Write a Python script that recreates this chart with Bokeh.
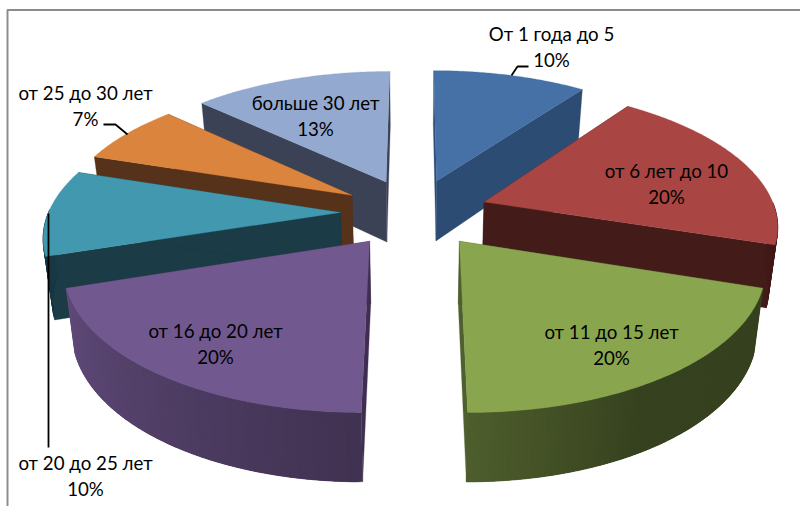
import numpy as np
from bokeh.core.properties import value
from bokeh.embed import file_html
from bokeh.models import Range1d
from bokeh.plotting import figure
from bokeh.resources import INLINE

# Stazh groups and their shares, percent, clockwise from twelve o'clock
categories = ["От 1 года до 5", "от 6 лет до 10", "от 11 до 15 лет", "от 16 до 20 лет",
              "от 20 до 25 лет", "от 25 до 30 лет", "больше 30 лет"]
shares = [10, 20, 20, 20, 10, 7, 13]

top_colors = ["#4571A6", "#A94543", "#89A54E", "#71588F", "#4198AF", "#DB843D", "#93A9CF"]
cut_colors = ["#2D4C73", "#431C1A", "#4F602F", "#3F2E50", "#1B3B46", "#56321A", "#3B4256"]

# Label centres in page pixels
label_x = [551, 666, 611, 215, 85, 85, 315]
label_y = [33, 170, 331, 330, 462, 92, 102]
LINE_GAP = 26
FONT = "Lato"
FONT_SIZE = "18.7px"

# Projection of the tilted pie onto the page
CX, CY = 414.0, 212.0
RADIUS = 292.0
EXPLODE = 74.0
TILT = 0.465
PERSP = 0.000518
SHRINK = 0.975
DEPTH_BASE, DEPTH_SLOPE = 61.5, 0.022
# Painter's order, back to front
DRAW_ORDER = [6, 0, 5, 1, 4, 3, 2]


def top_point(x, y):
    w = 1 + PERSP * y
    return CX + x / w, CY - TILT * y / w


def bottom_point(x, y):
    sx, sy = top_point(x, y)
    return CX + (sx - CX) * SHRINK, sy + DEPTH_BASE - DEPTH_SLOPE * y


def wall_color(i, deg):
    # Rim facing the viewer is lit from the left; elsewhere it takes the cut-face tone
    if not 108 <= deg <= 252:
        return cut_colors[i]
    k = np.interp(deg, [108, 150, 180, 252], [0.40, 0.40, 0.57, 0.85])
    hex_color = top_colors[i]
    rgb = [int(hex_color[n:n + 2], 16) for n in (1, 3, 5)]
    return "#%02x%02x%02x" % tuple(int(c * k) for c in rgb)


p = figure(width=800, height=506, output_backend="svg", toolbar_location=None,
           x_range=Range1d(0, 800), y_range=Range1d(506, 0),
           min_border=0, outline_line_color=None, background_fill_color="white")
p.axis.visible = False
p.grid.visible = False

# Chart frame: only the top and left rules fall inside the page
p.line([7, 7, 800], [506, 9.5, 9.5], line_color="#8C8C8C", line_width=2)

xs, ys, fills = [], [], []
edges = np.cumsum([0] + shares) / sum(shares) * 360.0
for i in DRAW_ORDER:
    a0, a1 = edges[i], edges[i + 1]
    mid = np.radians((a0 + a1) / 2)
    ox, oy = EXPLODE * np.sin(mid), EXPLODE * np.cos(mid)
    degs = np.linspace(a0, a1, max(int(a1 - a0) * 2, 2) + 1)
    rx = ox + RADIUS * np.sin(np.radians(degs))
    ry = oy + RADIUS * np.cos(np.radians(degs))

    # Two cut faces
    for k in (0, -1):
        pts = [top_point(ox, oy), top_point(rx[k], ry[k]),
               bottom_point(rx[k], ry[k]), bottom_point(ox, oy)]
        xs.append([q[0] for q in pts])
        ys.append([q[1] for q in pts])
        fills.append(cut_colors[i])

    # Outer wall, strips overlap the next one so no seams show between them
    for j in range(len(degs) - 1):
        if not 90 <= degs[j] <= 270:
            continue
        n = min(j + 3, len(degs) - 1)
        seg = range(j, n + 1)
        pts = [top_point(rx[m], ry[m]) for m in seg] + \
              [bottom_point(rx[m], ry[m]) for m in reversed(seg)]
        xs.append([q[0] for q in pts])
        ys.append([q[1] for q in pts])
        fills.append(wall_color(i, (degs[j] + degs[j + 1]) / 2))

    # Top surface
    pts = [top_point(ox, oy)] + [top_point(a, b) for a, b in zip(rx, ry)]
    xs.append([q[0] for q in pts])
    ys.append([q[1] for q in pts])
    fills.append(top_colors[i])

p.patches(xs, ys, fill_color=fills, line_color=fills, line_width=0.3)

# Leader lines
p.line([528, 517, 511], [66, 66, 75], line_color="black", line_width=1.8)
p.line([103, 115, 127], [124, 124, 134], line_color="black", line_width=1.8)
p.line([48, 48], [213, 447], line_color="black", line_width=1.8)

# Two-line labels: group name over its share
p.text(label_x, label_y, text=categories, text_align="center", text_baseline="middle",
       text_font=value(FONT), text_font_size=FONT_SIZE, text_color="black")
p.text(label_x, [y + LINE_GAP for y in label_y], text=[f"{s}%" for s in shares],
       text_align="center", text_baseline="middle",
       text_font=value(FONT), text_font_size=FONT_SIZE, text_color="black")

open("out.html", "w").write(file_html(p, INLINE))
